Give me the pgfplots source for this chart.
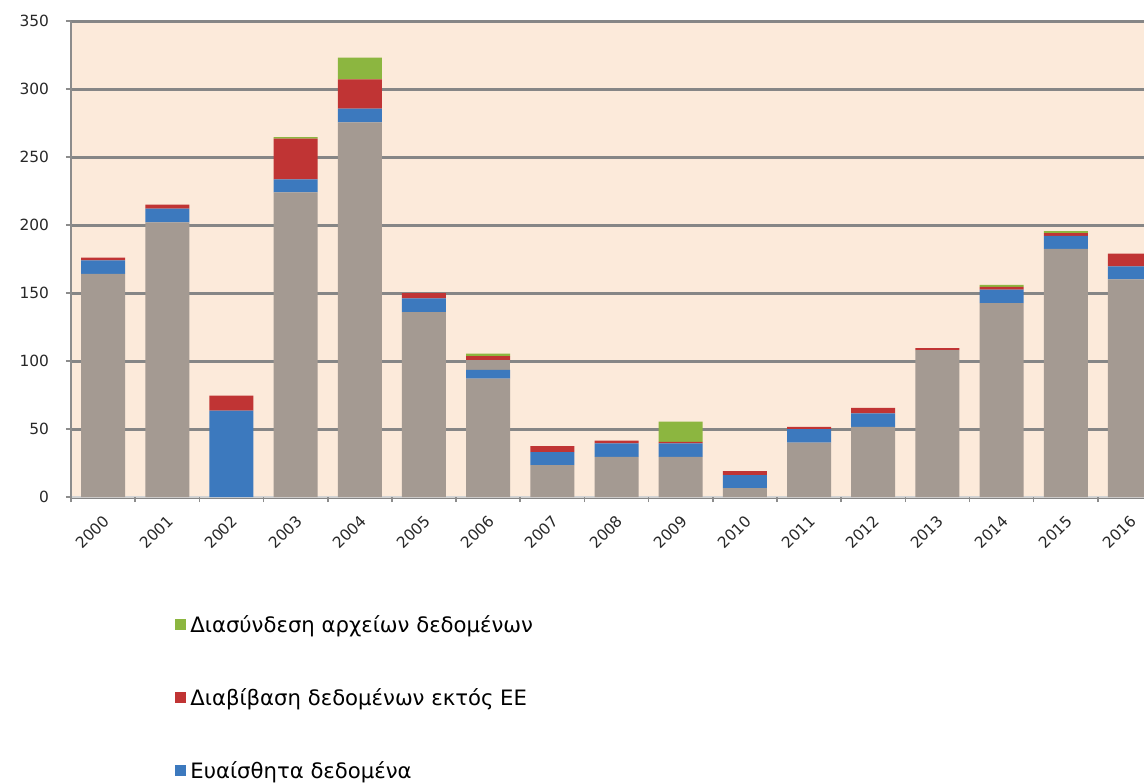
\documentclass[border=0pt]{standalone}
\usepackage{fontspec}
\setmainfont{DejaVu Sans}
\usepackage{pgfplots}
\pgfplotsset{compat=1.18}
\usepackage{pgfplotstable}

\definecolor{bgc}{RGB}{252,234,218}
\definecolor{greyc}{RGB}{164,154,146}
\definecolor{bluec}{RGB}{60,121,190}
\definecolor{redc}{RGB}{192,52,52}
\definecolor{greenc}{RGB}{140,182,64}
\definecolor{gridc}{RGB}{134,134,134}
\definecolor{axc}{RGB}{140,140,140}
\definecolor{tickc}{RGB}{40,40,40}

\pgfplotstableread{
x base blue mid red green
0 164 10 0 2 0
1 202 10 0 3 0
2 0 63.5 0 11 0
3 224 9.5 0 30 1.2
4 275.5 10 0 21.5 16
5 136 10 0 4 0
6 87 6.5 7 3 2
7 23.5 9.5 0 4.5 0
8 29.5 10 0 2 0
9 29.5 10 0 1 15
10 6.5 9.5 0 3 0
11 40 10 0 1.5 0
12 51.5 10 0 4 0
13 108 0 0 1.5 0
14 142.5 10 0 2 1.5
15 182.5 9.5 0 2 1.5
16 160 9.5 0 9.5 0
}\data

\begin{document}
\begin{tikzpicture}
\begin{axis}[
  at={(35.5pt,143pt)}, anchor=south west,
  scale only axis, width=545.5pt, height=238pt,
  xmin=-0.5, xmax=16.5, ymin=0, ymax=350,
  ybar stacked, bar width=22pt,
  axis background/.style={fill=bgc},
  axis lines*=left,
  y axis line style={draw=axc, line width=1pt},
  x axis line style={draw=gray!35, line width=1pt},
  ymajorgrids, grid style={draw=gridc, line width=1.5pt},
  ytick={0,50,...,350},
  tick align=outside,
  major tick length=2.5pt,
  ytick style={draw=axc, line width=0.8pt},
  xtick={0,...,16},
  xticklabels={2000,2001,2002,2003,2004,2005,2006,2007,2008,2009,2010,2011,2012,2013,2014,2015,2016},
  xtick style={draw=none},
  extra x ticks={-0.5,0.5,...,16.5},
  extra x tick labels={},
  extra x tick style={xtick style={draw=axc, line width=0.8pt}, grid=none},
  /pgf/number format/assume math mode=true,
  ticklabel style={font=\fontsize{7.7}{9}\selectfont, text=tickc},
  yticklabel style={xshift=-5pt},
  xticklabel style={rotate=45, anchor=north east, xshift=-1pt, yshift=-0.5pt},
  legend style={at={(0.0953,-0.252)}, anchor=north west, draw=none, fill=none,
    inner sep=0pt, row sep=26.5pt, column sep=2pt,
    nodes={inner sep=0pt, text height=7.5pt, text depth=2.5pt,
      font=\fontsize{10.6}{12}\selectfont, anchor=west}},
  legend cell align=left,
  legend image code/.code={\path[#1] (0pt,-1.5pt) rectangle (5.5pt,4pt);},
  reverse legend,
]
\addplot[forget plot, fill=greyc, draw=none] table[x=x,y=base]{\data};
\addplot[draw=none, fill=bluec] table[x=x,y=blue]{\data};
\addlegendentry{Ευαίσθητα δεδομένα}
\addplot[forget plot, fill=greyc, draw=none] table[x=x,y=mid]{\data};
\addplot[draw=none, fill=redc] table[x=x,y=red]{\data};
\addlegendentry{Διαβίβαση δεδομένων εκτός ΕΕ}
\addplot[draw=none, fill=greenc] table[x=x,y=green]{\data};
\addlegendentry{Διασύνδεση αρχείων δεδομένων}
\end{axis}
\pgfresetboundingbox
\path[use as bounding box] (0,0) rectangle (572pt,391.5pt);
\end{tikzpicture}
\end{document}
